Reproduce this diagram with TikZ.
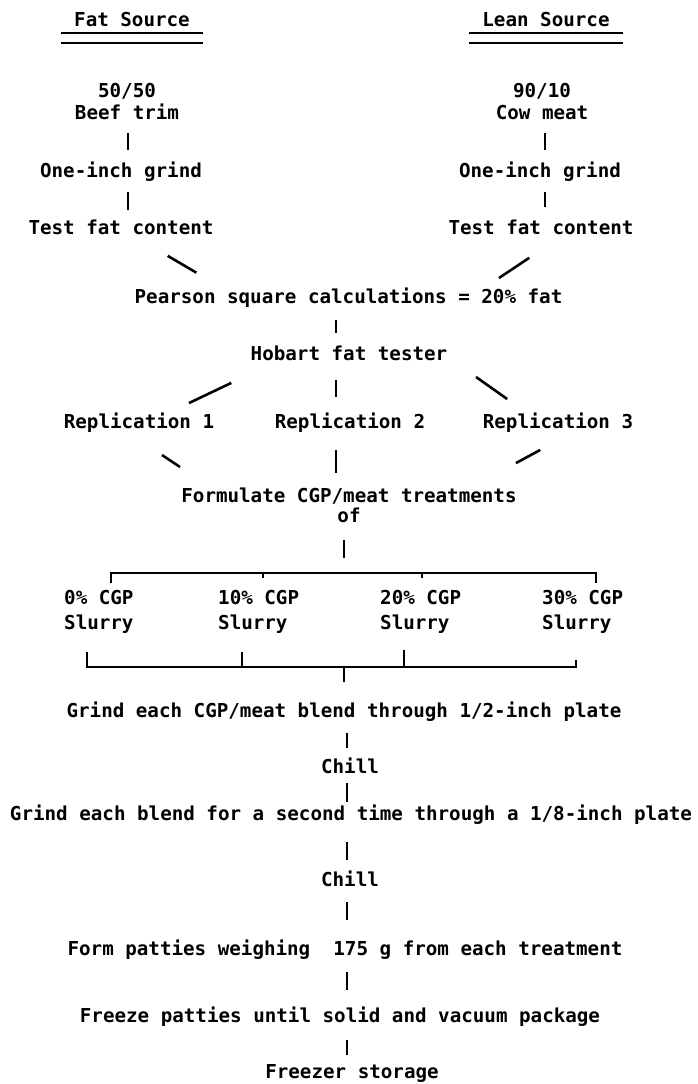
\documentclass[tikz,border=0pt]{standalone}
\usepackage{fontspec}
\setmainfont{DejaVu Sans Mono}
\tikzset{
  lbl/.style={inner sep=0pt, text height=14pt, text depth=4pt},
  lbl2/.style={inner sep=0pt, align=center},
  slurry/.style={inner sep=0pt, align=left, anchor=west, font=\fontsize{19.2}{25}\selectfont\bfseries},
  link/.style={line width=2.6pt},
  rule/.style={line width=1.8pt}
}
\begin{document}
\begin{tikzpicture}[x=1pt, y=-1pt, font=\fontsize{19.2}{22}\selectfont\bfseries]
    \useasboundingbox (0,0) rectangle (697,1084);

    % Source headings
    \node[lbl] (fatsrc) at (132,22) {Fat Source};
    \node[lbl] (leansrc) at (546,22) {Lean Source};
    \draw[rule] ([xshift=-13pt,yshift=-2pt]fatsrc.south west) -- ([xshift=13pt,yshift=-2pt]fatsrc.south east);
    \draw[rule] ([xshift=-13pt,yshift=-12pt]fatsrc.south west) -- ([xshift=13pt,yshift=-12pt]fatsrc.south east);
    \draw[rule] ([xshift=-13pt,yshift=-2pt]leansrc.south west) -- ([xshift=13pt,yshift=-2pt]leansrc.south east);
    \draw[rule] ([xshift=-13pt,yshift=-12pt]leansrc.south west) -- ([xshift=13pt,yshift=-12pt]leansrc.south east);

    % Columns for the short ticks
    \coordinate (colF) at (128,0);
    \coordinate (colL) at (545,0);
    \coordinate (axisA) at (336,0);
    \coordinate (axisB) at (344,0);
    \coordinate (axisC) at (347,0);

    % Fat and lean sources
    \node[lbl2] (beef) at (127,102) {50/50\\Beef trim};
    \node[lbl] (grindF) at (121,172) {One-inch grind};
    \node[lbl] (testF) at (121,229) {Test fat content};
    \node[lbl2] (cow) at (542,102) {90/10\\Cow meat};
    \node[lbl] (grindL) at (540,172) {One-inch grind};
    \node[lbl] (testL) at (541,229) {Test fat content};
    \draw[link, shorten <=31pt, shorten >=22pt] (beef -| colF) -- (grindF -| colF);
    \draw[link, shorten <=20pt, shorten >=19pt] (grindF -| colF) -- (testF -| colF);
    \draw[link, shorten <=31pt, shorten >=22pt] (cow -| colL) -- (grindL -| colL);
    \draw[link, shorten <=20pt, shorten >=22pt] (grindL -| colL) -- (testL -| colL);

    % Blending and replications
    \node[lbl] (pearson) at (348.5,298) {Pearson square calculations = 20\% fat};
    \node[lbl] (hobart) at (349,355) {Hobart fat tester};
    \node[lbl] (rep1) at (139,423) {Replication 1};
    \node[lbl] (rep2) at (350,423) {Replication 2};
    \node[lbl] (rep3) at (558,423) {Replication 3};
    \node[lbl2, font=\fontsize{19.2}{20}\selectfont\bfseries] (formulate) at (349,505) {Formulate CGP/meat treatments\\of};
    \draw[link, shorten <=53pt, shorten >=50pt] ([xshift=1pt]testF.center) -- ([xshift=-109pt]pearson.center);
    \draw[link, shorten <=52pt, shorten >=36pt] ([xshift=31.5pt]testL.center) -- ([xshift=120.5pt]pearson.center);
    \draw[link, shorten <=22pt, shorten >=22pt] (pearson -| axisA) -- (hobart -| axisA);
    \draw[link, shorten <=65pt, shorten >=46.5pt] ([xshift=-59pt]hobart.center) -- ([xshift=8pt]rep1.center);
    \draw[link, shorten <=25pt, shorten >=26pt] (hobart -| axisA) -- (rep2 -| axisA);
    \draw[link, shorten <=38pt, shorten >=41.5pt] ([xshift=96pt]hobart.center) -- ([xshift=-17pt]rep3.center);
    \draw[link, shorten <=57.7pt, shorten >=68.5pt] ([xshift=-25pt]rep1.center) -- ([xshift=-112pt]formulate.center);
    \draw[link, shorten <=27pt, shorten >=32pt] (rep2 -| axisA) -- (formulate -| axisA);
    \draw[link, shorten <=56.6pt, shorten >=88pt] ([xshift=32pt]rep3.center) -- ([xshift=89.5pt]formulate.center);

    % Treatments
    \node[slurry] (cgp0) at (64,612) {0\% CGP\\Slurry};
    \node[slurry] (cgp10) at (218,612) {10\% CGP\\Slurry};
    \node[slurry] (cgp20) at (380,612) {20\% CGP\\Slurry};
    \node[slurry] (cgp30) at (542,612) {30\% CGP\\Slurry};
    \coordinate (busT) at (344,573);
    \coordinate (busB) at (344,667);
    \draw[link, shorten <=35pt, shorten >=15pt] (formulate -| axisB) -- (busT);
    \draw[link] (111,583) |- (busT) -| (596,583);
    \draw[link] (263,573) -- (263,578);
    \draw[link] (422,573) -- (422,578);
    \draw[link] (87,652) |- (busB) -| (576,660);
    \draw[link] (242,652) -- (242,667);
    \draw[link] (404,650) -- (404,667);

    % Grinding, forming and storage
    \node[lbl] (grindA) at (344,712) {Grind each CGP/meat blend through 1/2-inch plate};
    \node[lbl] (chillA) at (350,768) {Chill};
    \node[lbl] (grindB) at (351,815) {Grind each blend for a second time through a 1/8-inch plate};
    \node[lbl] (chillB) at (350,881) {Chill};
    \node[lbl] (form) at (345,950) {Form patties weighing\ \ 175 g from each treatment};
    \node[lbl] (freeze) at (340,1017) {Freeze patties until solid and vacuum package};
    \node[lbl] (storage) at (352,1073) {Freezer storage};
    \draw[link, shorten >=30pt] (busB) -- (grindA -| busB);
    \draw[link, shorten <=21pt, shorten >=20pt] (grindA -| axisC) -- (chillA -| axisC);
    \draw[link, shorten <=15pt, shorten >=13pt] (chillA -| axisC) -- (grindB -| axisC);
    \draw[link, shorten <=27pt, shorten >=21pt] (grindB -| axisC) -- (chillB -| axisC);
    \draw[link, shorten <=21pt, shorten >=30pt] (chillB -| axisC) -- (form -| axisC);
    \draw[link, shorten <=22pt, shorten >=27pt] (form -| axisC) -- (freeze -| axisC);
    \draw[link, shorten <=23pt, shorten >=18pt] (freeze -| axisC) -- (storage -| axisC);
\end{tikzpicture}
\end{document}
